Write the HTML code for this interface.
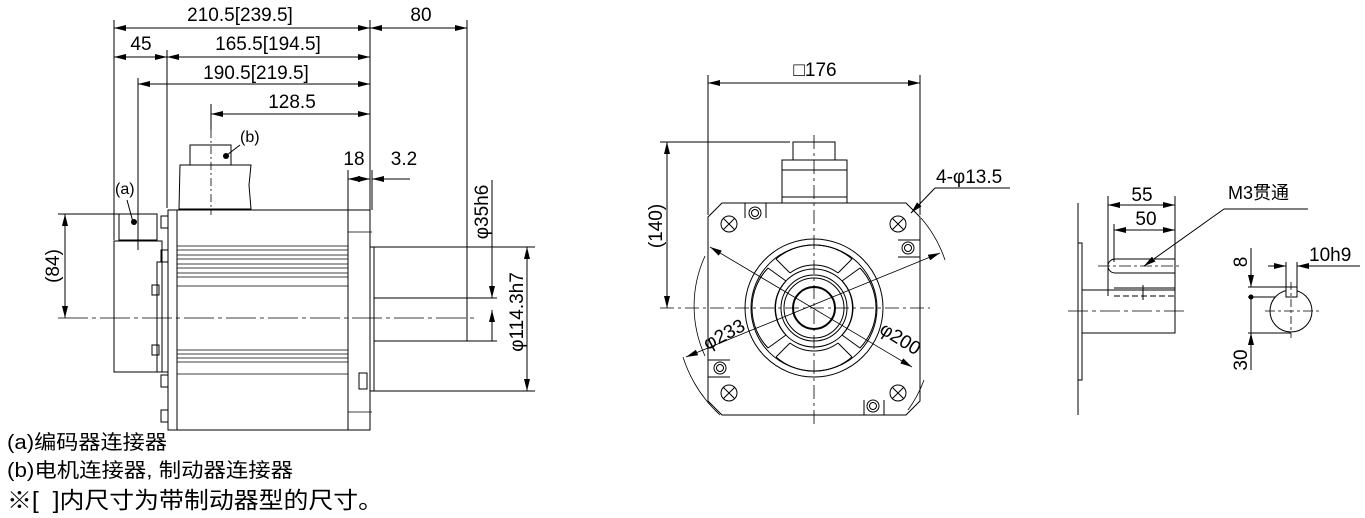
<!DOCTYPE html>
<html><head><meta charset="utf-8"><style>
html,body{margin:0;padding:0;background:#fff;}
svg{display:block;}
text{font-family:"Liberation Sans","Noto Sans CJK SC",sans-serif;fill:#000;}
</style></head><body>
<svg width="1365" height="518" viewBox="0 0 1365 518" xmlns="http://www.w3.org/2000/svg">
<defs>
<marker id="a" viewBox="0 0 12 6" refX="12" refY="3" markerWidth="12" markerHeight="6" orient="auto-start-reverse" markerUnits="userSpaceOnUse"><path d="M0,0L12,3L0,6z" fill="#000"/></marker>
</defs>
<g stroke="#000" stroke-width="1" fill="none">
<line x1="114" y1="20" x2="114" y2="240"/>
<line x1="138" y1="78" x2="138" y2="250"/>
<line x1="167" y1="50" x2="167" y2="208"/>
<line x1="211" y1="104" x2="211" y2="130"/>
<line x1="370" y1="20" x2="370" y2="210"/>
<line x1="467" y1="20" x2="467" y2="298"/>
<line x1="114" y1="28" x2="370" y2="28" marker-start="url(#a)" marker-end="url(#a)"/>
<line x1="370" y1="28" x2="467" y2="28" marker-start="url(#a)" marker-end="url(#a)"/>
<line x1="114" y1="57" x2="167" y2="57" marker-start="url(#a)" marker-end="url(#a)"/>
<line x1="167" y1="57" x2="370" y2="57" marker-start="url(#a)" marker-end="url(#a)"/>
<line x1="138" y1="84" x2="370" y2="84" marker-start="url(#a)" marker-end="url(#a)"/>
<line x1="211" y1="114" x2="370" y2="114" marker-start="url(#a)" marker-end="url(#a)"/>
<line x1="348" y1="170" x2="348" y2="210"/>
<line x1="372" y1="170" x2="372" y2="210"/>
<line x1="348" y1="179" x2="370" y2="179" marker-start="url(#a)" marker-end="url(#a)"/>
<line x1="410" y1="179" x2="372" y2="179" marker-end="url(#a)"/>
<rect x="168" y="210" width="202" height="220"/>
<line x1="177" y1="210" x2="177" y2="430"/>
<line x1="348" y1="210" x2="348" y2="430"/>
<g stroke-width="0.8">
<line x1="177" y1="246" x2="348" y2="246"/><line x1="177" y1="250" x2="348" y2="250"/><line x1="177" y1="255" x2="348" y2="255"/><line x1="177" y1="259" x2="348" y2="259"/><line x1="177" y1="264" x2="348" y2="264"/><line x1="177" y1="268" x2="348" y2="268"/><line x1="177" y1="273" x2="348" y2="273"/><line x1="177" y1="277" x2="348" y2="277"/><line x1="177" y1="286" x2="348" y2="286"/>
<line x1="177" y1="350" x2="348" y2="350"/><line x1="177" y1="354" x2="348" y2="354"/><line x1="177" y1="358" x2="348" y2="358"/><line x1="177" y1="362" x2="348" y2="362"/><line x1="177" y1="374" x2="348" y2="374"/>
<line x1="348" y1="232" x2="372" y2="232"/><line x1="348" y1="412" x2="372" y2="412"/>
</g>
<rect x="359" y="373" width="8" height="16"/>
<rect x="370" y="247" width="4" height="144"/>
<rect x="374" y="298" width="93" height="43"/>
<line x1="374" y1="247" x2="535" y2="247"/>
<line x1="374" y1="391" x2="535" y2="391"/>
<line x1="467" y1="298" x2="497" y2="298"/>
<line x1="467" y1="341" x2="497" y2="341"/>
<line x1="492" y1="180" x2="492" y2="298" marker-end="url(#a)"/>
<line x1="492" y1="341" x2="492" y2="310" marker-end="url(#a)"/>
<line x1="527" y1="247" x2="527" y2="391" marker-start="url(#a)" marker-end="url(#a)"/>
<line x1="58" y1="318" x2="475" y2="318" stroke-dasharray="30,4,4,4" stroke-width="0.8"/>
<rect x="190" y="145" width="41" height="20"/>
<path d="M180,165 L251,165 L249,185 L251,209 L179,209 Z"/>
<line x1="211" y1="130" x2="211" y2="215" stroke-dasharray="8,3,2,3" stroke-width="0.8"/>
<line x1="227" y1="155" x2="240" y2="145"/>
<rect x="119" y="214" width="38" height="26"/>
<rect x="114" y="241" width="48" height="131"/>
<rect x="157" y="262" width="11" height="110"/>
<line x1="58" y1="214" x2="119" y2="214"/>
<line x1="133" y1="222" x2="127" y2="200"/>
<line x1="65" y1="214" x2="65" y2="318" marker-start="url(#a)" marker-end="url(#a)"/>
<rect x="161" y="216" width="7" height="12"/><rect x="161" y="250" width="7" height="12"/><rect x="152" y="285" width="7" height="10"/><rect x="152" y="345" width="7" height="10"/><rect x="161" y="375" width="7" height="12"/><rect x="161" y="410" width="7" height="12"/>
</g>
<circle cx="134" cy="222" r="3"/>
<circle cx="226" cy="156" r="3"/>
<g font-size="19">
<text x="240" y="21" text-anchor="middle">210.5[239.5]</text>
<text x="421" y="21" text-anchor="middle">80</text>
<text x="141" y="50" text-anchor="middle">45</text>
<text x="268" y="50" text-anchor="middle">165.5[194.5]</text>
<text x="256" y="79" text-anchor="middle">190.5[219.5]</text>
<text x="292" y="108" text-anchor="middle">128.5</text>
<text x="354" y="165" text-anchor="middle">18</text>
<text x="404" y="165" text-anchor="middle">3.2</text>
<text transform="translate(488,212) rotate(-90)" text-anchor="middle">φ35h6</text>
<text transform="translate(523,312) rotate(-90)" text-anchor="middle">φ114.3h7</text>
<text transform="translate(59,266) rotate(-90)" text-anchor="middle">(84)</text>
</g>
<text x="115" y="194" font-size="16" font-family="Liberation Serif,serif">(a)</text>
<text x="240" y="142" font-size="16" font-family="Liberation Serif,serif">(b)</text>

<g stroke="#000" stroke-width="1" fill="none">
<line x1="708" y1="75" x2="708" y2="215"/>
<line x1="920" y1="75" x2="920" y2="215"/>
<line x1="708" y1="83" x2="920" y2="83" marker-start="url(#a)" marker-end="url(#a)"/>
<line x1="660" y1="142" x2="790" y2="142"/>
<line x1="667" y1="142" x2="667" y2="308" marker-start="url(#a)" marker-end="url(#a)"/>
<path d="M722,203 L906,203 L920,217 L920,401 L906,415 L722,415 L708,401 L708,217 Z"/>
<rect x="793" y="142" width="42" height="18"/>
<path d="M782,160 L847,160 L847,203 L782,203 Z"/>
<line x1="782" y1="170" x2="847" y2="170"/>
<line x1="782" y1="197" x2="847" y2="197"/>
<line x1="660" y1="308" x2="930" y2="308" stroke-dasharray="14,4,3,4" stroke-width="0.8"/>
<line x1="814" y1="135" x2="814" y2="425" stroke-dasharray="14,4,3,4" stroke-width="0.8"/>
<circle cx="814" cy="308" r="69"/>
<circle cx="814" cy="308" r="63"/>
<circle cx="814" cy="308" r="39"/>
<circle cx="814" cy="308" r="33"/>
<circle cx="814" cy="308" r="30"/>
<circle cx="814" cy="308" r="21" stroke-width="2"/>
<g stroke-width="1">
<path d="M790,273 L776,259 M786,281 L768,268 M838,273 L852,259 M842,281 L860,268 M790,343 L776,357 M786,335 L768,348 M838,343 L852,357 M842,335 L860,348"/>
<path d="M776,259 A58,58 0 0 1 852,259 M860,268 A58,58 0 0 1 860,348 M852,357 A58,58 0 0 1 776,357 M768,348 A58,58 0 0 1 768,268"/>
<path d="M790,273 A40,40 0 0 1 838,273 M842,281 A40,40 0 0 1 842,335 M838,343 A40,40 0 0 1 790,343 M786,335 A40,40 0 0 1 786,281"/>
</g>
<g>
<circle cx="729" cy="224" r="8"/><path d="M723,218L735,230M735,218L723,230"/>
<circle cx="898" cy="224" r="8"/><path d="M892,218L904,230M904,218L892,230"/>
<circle cx="729" cy="393" r="8"/><path d="M723,387L735,399M735,387L723,399"/>
<circle cx="898" cy="393" r="8"/><path d="M892,387L904,399M904,387L892,399"/>
</g>
<g>
<circle cx="755" cy="213" r="6"/><circle cx="755" cy="213" r="3.5"/><path d="M745,203L745,218M766,203L766,218"/>
<circle cx="908" cy="248" r="6"/><circle cx="908" cy="248" r="3.5"/><path d="M898,240L920,240M898,257L920,257"/>
<circle cx="720" cy="368" r="6"/><circle cx="720" cy="368" r="3.5"/><path d="M708,360L730,360M708,377L730,377"/>
<circle cx="873" cy="406" r="6"/><circle cx="873" cy="406" r="3.5"/><path d="M864,400L864,415M884,400L884,415"/>
</g>
<path d="M705,256 A120,120 0 0 0 705,356" stroke-width="0.8"/>
<path d="M921,218 A125,125 0 0 1 945,260" stroke-width="0.8"/>
<path d="M683,357 A135,135 0 0 0 720,415" stroke-width="0.8"/>
<path d="M924,380 A120,120 0 0 1 908,410" stroke-width="0.8"/>
<line x1="710" y1="247" x2="912" y2="367" marker-start="url(#a)" marker-end="url(#a)" stroke-width="0.8"/>
<line x1="686" y1="357" x2="940" y2="253" marker-start="url(#a)" marker-end="url(#a)" stroke-width="0.8"/>
<line x1="1010" y1="188" x2="935" y2="188"/>
<line x1="935" y1="188" x2="911" y2="213" marker-end="url(#a)"/>
</g>
<g font-size="19">
<text x="815" y="76" text-anchor="middle">□176</text>
<text x="936" y="183">4-φ13.5</text>
<text transform="translate(662,226) rotate(-90)" text-anchor="middle">(140)</text>
<text transform="translate(727,340) rotate(-28)" text-anchor="middle">φ233</text>
<text transform="translate(897,344) rotate(32)" text-anchor="middle">φ200</text>
</g>

<g stroke="#000" stroke-width="1" fill="none">
<line x1="1078" y1="203" x2="1078" y2="415"/>
<rect x="1078" y="243" width="4" height="137"/>
<rect x="1082" y="290" width="93" height="43"/>
<line x1="1108" y1="196" x2="1108" y2="296"/>
<line x1="1175" y1="196" x2="1175" y2="290"/>
<line x1="1114" y1="224" x2="1114" y2="262"/>
<line x1="1108" y1="205" x2="1175" y2="205" marker-start="url(#a)" marker-end="url(#a)"/>
<line x1="1114" y1="230" x2="1175" y2="230" marker-start="url(#a)" marker-end="url(#a)"/>
<path d="M1115,259 L1175,259 M1115,273 L1175,273 M1115,259 A7,7 0 0 0 1115,273"/>
<line x1="1098" y1="266" x2="1180" y2="266" stroke-dasharray="12,3,3,3" stroke-width="0.8"/>
<line x1="1114" y1="288" x2="1175" y2="288"/>
<line x1="1114" y1="296" x2="1175" y2="296" stroke-dasharray="6,3"/>
<line x1="1143" y1="285" x2="1143" y2="300"/>
<line x1="1068" y1="311" x2="1185" y2="311" stroke-dasharray="20,4,4,4" stroke-width="0.8"/>
<line x1="1308" y1="209" x2="1224" y2="209"/>
<line x1="1224" y1="209" x2="1144" y2="266" marker-end="url(#a)"/>
<circle cx="1291" cy="311" r="21"/>
<rect x="1286" y="287" width="11" height="10" fill="#fff"/>
<line x1="1265" y1="311" x2="1322" y2="311" stroke-dasharray="10,3,3,3" stroke-width="0.8"/>
<line x1="1291" y1="282" x2="1291" y2="338" stroke-dasharray="8,3,3,3" stroke-width="0.8"/>
<line x1="1286" y1="262" x2="1286" y2="287"/>
<line x1="1297" y1="262" x2="1297" y2="287"/>
<line x1="1268" y1="266" x2="1286" y2="266" marker-end="url(#a)"/>
<line x1="1360" y1="266" x2="1297" y2="266" marker-end="url(#a)"/>
<line x1="1248" y1="287" x2="1286" y2="287"/>
<line x1="1248" y1="297" x2="1275" y2="297"/>
<line x1="1248" y1="333" x2="1291" y2="333"/>
<line x1="1251" y1="248" x2="1251" y2="287" marker-end="url(#a)"/>
<line x1="1251" y1="297" x2="1251" y2="333"/>
<line x1="1251" y1="370" x2="1251" y2="333" marker-end="url(#a)"/>
</g>
<circle cx="1251" cy="297" r="2.5"/>
<g font-size="19">
<text x="1142" y="201" text-anchor="middle">55</text>
<text x="1146" y="225" text-anchor="middle">50</text>
<text x="1228" y="199" font-size="18">M3贯通</text>
<text x="1309" y="261">10h9</text>
<text transform="translate(1247,262) rotate(-90)" text-anchor="middle">8</text>
<text transform="translate(1247,360) rotate(-90)" text-anchor="middle">30</text>
</g>

<g font-size="20">
<text x="7" y="449" textLength="160" lengthAdjust="spacingAndGlyphs">(a)编码器连接器</text>
<text x="7" y="477" textLength="286" lengthAdjust="spacingAndGlyphs">(b)电机连接器, 制动器连接器</text>
<text x="7" y="508" font-size="23" textLength="376" lengthAdjust="spacingAndGlyphs">※[&#160;&#160;]内尺寸为带制动器型的尺寸。</text>
</g>
</svg>
</body></html>
